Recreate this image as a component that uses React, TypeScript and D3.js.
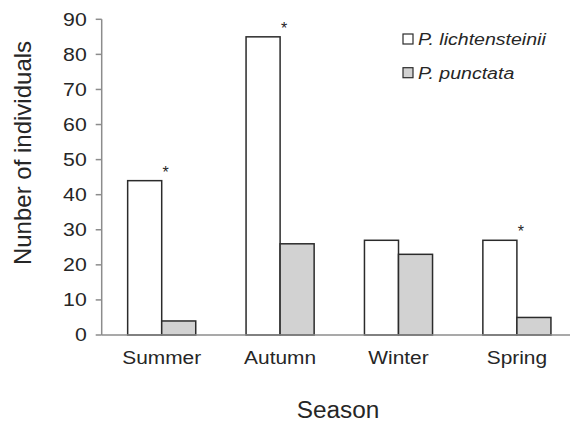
import React from "react";
import * as d3 from "d3";

const seasons = ["Summer", "Autumn", "Winter", "Spring"];
const seriesNames = ["P. lichtensteinii", "P. punctata"];
const lichtensteinii = [44, 85, 27, 27];
const punctata = [4, 26, 23, 5];
const significant = [true, true, false, true];
const yTicks = [0, 10, 20, 30, 40, 50, 60, 70, 80, 90];

const W = 573;
const H = 425;
const FONT = "'Liberation Sans', Arial, Helvetica, sans-serif";
const fills = ["#ffffff", "#d2d2d2"];
const stroke = "#2b2b2b";
const axisColor = "#8c8c8c";
const textColor = "#262626";

const axisLeft = 101.7;
const axisRight = 570;
const plotTop = 19.3;
const plotBottom = 335;

const y = d3.scaleLinear().domain([0, 90]).range([plotBottom, plotTop]);
const x0 = d3
  .scaleBand<string>()
  .domain(seasons)
  .range([102.5, 576.1])
  .paddingInner(0.425)
  .paddingOuter(0.2125);
const x1 = d3
  .scaleBand<string>()
  .domain(seriesNames)
  .range([0, x0.bandwidth()]);

const seriesValues = [lichtensteinii, punctata];

function SText(props: {
  x: number;
  y: number;
  sx?: number;
  size: number;
  anchor?: string;
  italic?: boolean;
  rotate?: number;
  children: React.ReactNode;
}) {
  const { x, y, sx = 1, size, anchor = "start", italic, rotate = 0, children } = props;
  return (
    <text
      transform={`translate(${x},${y}) rotate(${rotate}) scale(${sx},1)`}
      fontSize={size}
      fontFamily={FONT}
      fontStyle={italic ? "italic" : "normal"}
      textAnchor={anchor}
      fill={textColor}
    >
      {children}
    </text>
  );
}

export default function App() {
  return (
    <svg
      width={W}
      height={H}
      style={{ position: "absolute", left: 0, top: 0, background: "#fff" }}
    >
      <rect width={W} height={H} fill="#fff" />

      {/* bars */}
      {seasons.map((s, i) => (
        <g key={s} transform={`translate(${x0(s)},0)`}>
          {seriesNames.map((n, j) => {
            const v = seriesValues[j][i];
            return (
              <rect
                key={n}
                x={x1(n)}
                y={y(v)}
                width={x1.bandwidth()}
                height={y(0) - y(v)}
                fill={fills[j]}
                stroke={stroke}
                strokeWidth={1.5}
              />
            );
          })}
          {significant[i] && (
            <SText
              x={(x1(seriesNames[0]) as number) + x1.bandwidth() + 4}
              y={y(lichtensteinii[i]) - 3}
              size={16}
              anchor="middle"
            >
              *
            </SText>
          )}
        </g>
      ))}

      {/* axes */}
      <line x1={axisLeft} x2={axisLeft} y1={plotTop} y2={plotBottom} stroke={axisColor} strokeWidth={1.5} />
      <line x1={axisLeft} x2={axisRight} y1={plotBottom} y2={plotBottom} stroke={axisColor} strokeWidth={1.5} />
      {yTicks.map((t) => (
        <g key={t}>
          <line x1={axisLeft - 6} x2={axisLeft} y1={y(t)} y2={y(t)} stroke={axisColor} strokeWidth={1.5} />
          <SText x={axisLeft - 15} y={y(t) + 6.3} size={18} sx={1.18} anchor="end">
            {t}
          </SText>
        </g>
      ))}
      {seasons.map((s) => (
        <SText key={s} x={(x0(s) as number) + x0.bandwidth() / 2} y={364} size={19} sx={1.1} anchor="middle">
          {s}
        </SText>
      ))}

      {/* axis titles */}
      <SText x={338} y={418} size={23} sx={1.06} anchor="middle">
        Season
      </SText>
      <SText x={31} y={153} size={24} rotate={-90} anchor="middle">
        Nunber of individuals
      </SText>

      {/* legend */}
      {seriesNames.map((n, j) => (
        <g key={n} transform={`translate(403,${34 + j * 33.7})`}>
          <rect x={0} y={0} width={10} height={10} fill={fills[j]} stroke={stroke} strokeWidth={1.2} />
          <SText x={15} y={11} size={17} sx={1.15} italic>
            {n}
          </SText>
        </g>
      ))}
    </svg>
  );
}
